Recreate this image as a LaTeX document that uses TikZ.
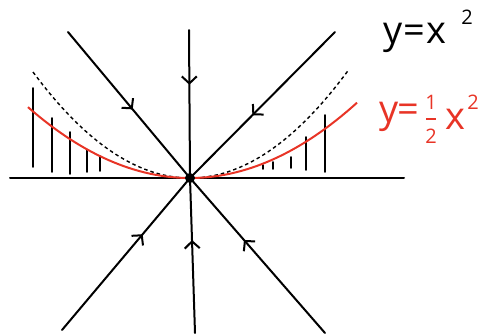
\documentclass[tikz,border=0pt]{standalone}
\usepackage{fontspec}
\setmainfont{Open Sans}
\usetikzlibrary{arrows.meta,decorations.markings}
\definecolor{penred}{RGB}{232,52,38}
\tikzset{
  ln/.style={line width=2pt, line cap=round},
  midarrow/.style={postaction={decorate},decoration={markings,
     mark=at position #1 with {\arrow{Straight Barb[length=7pt,width=15pt,line width=2pt]}}}},
  hatch/.style={line width=1.9pt, line cap=round},
  lbl/.style={font=\fontsize{38}{38}\selectfont, inner sep=0pt},
  sml/.style={font=\fontsize{20}{20}\selectfont, inner sep=0pt}
}
\begin{document}
\begin{tikzpicture}[x=1pt,y=-1pt]
\useasboundingbox (0,0) rectangle (479,333);
\coordinate (O) at (190,178);
\coordinate (L) at (10,178);
\coordinate (R) at (404,178);
\coordinate (T) at (189,30);
\coordinate (B) at (195,333);
\coordinate (UL) at (68,32);
\coordinate (UR) at (335,32);
\coordinate (LL) at (62,330);
\coordinate (LR) at (325,333);
% axis
\draw[ln] (L) -- (R);
% rays with arrows toward origin
\draw[ln, midarrow=0.53] (UL) -- (O);
\draw[ln, midarrow=0.37] (T) -- (O);
\draw[ln, midarrow=0.57] (UR) -- (O);
\draw[ln, midarrow=0.63] (LL) -- (O);
\draw[ln, midarrow=0.6] (B) -- (O);
\draw[ln, midarrow=0.6] (LR) -- (O);
% hatching
\foreach \xa/\ya/\yb in {33/88/167, 52/118/172, 70/132/174, 87/150/172, 100/156/171,
                          263/165/169, 273/162/169, 291/157/168, 306/137/170, 325/115/172}
  \draw[hatch] (\xa,\ya) -- (\xa,\yb);
% dashed y = x^2
\draw[line width=1.4pt, dash pattern=on 3.5pt off 3pt, domain=-157:158, samples=80]
  plot ({190+\x},{178-0.43*(\x/10)*(\x/10)});
% red y = x^2/2
\draw[penred, line width=2pt, domain=-162:167, samples=80]
  plot ({190+\x},{178-0.27*(\x/10)*(\x/10)});
% origin dot
\fill (O) circle (5pt);
% black label
\node[lbl, anchor=west] (lab1) at (383,38) {y\kern1pt=\kern1pt x};
\node[sml] (lab1s) at (467,17) {2};
% red label
\node[lbl, anchor=west, text=penred] (lab2) at (379,117) {y\kern-1pt=};
\node[sml, text=penred] (fn) at (431,102) {1};
\node[sml, text=penred] (fd) at (431,136) {2};
\draw[penred, line width=1.4pt] (426,119) -- (436,119);
\node[lbl, text=penred] (lab2x) at (455,119) {x};
\node[sml, text=penred] (lab2s) at (473,102) {2};
\end{tikzpicture}
\end{document}
